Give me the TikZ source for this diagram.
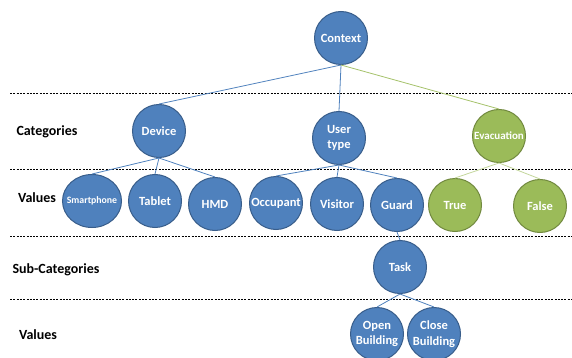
\documentclass[tikz,border=0pt]{standalone}
\usepackage{fontspec}
\setmainfont{Carlito}
\usetikzlibrary{shapes.geometric}
\definecolor{bluefill}{HTML}{4F81BD}
\definecolor{blueline}{HTML}{385D8A}
\definecolor{greenfill}{HTML}{9BBB59}
\definecolor{greenline}{HTML}{71893F}
\definecolor{palegreen}{HTML}{C3D69B}
\tikzset{
  bnode/.style={circle,draw=blueline,fill=bluefill,line width=1pt,minimum size=53pt,inner sep=0pt,
    text=white,align=center,font=\bfseries\fontsize{12.5}{15.5}\selectfont},
  gnode/.style={bnode,draw=greenline,fill=greenfill},
  lab/.style={font=\bfseries\fontsize{14}{16}\selectfont},
  sep/.style={dash pattern=on 2pt off 1.3pt,line width=0.8pt},
  bedge/.style={draw=bluefill,line width=0.8pt},
  gedge/.style={draw=greenfill!90!white,line width=0.8pt},
  pedge/.style={draw=palegreen,line width=0.8pt}
}
\begin{document}
\begin{tikzpicture}[x=1pt,y=-1pt]
\useasboundingbox (0,0) rectangle (572,358);
% level separators
\draw[sep] (10,93) -- (572,93);
\draw[sep] (10,169) -- (572,169);
\draw[sep] (10,236) -- (572,236);
\draw[sep] (10,299) -- (572,299);
% row labels
\node[lab] (cat) at (47,132) {Categories};
\node[lab] (val1) at (37,198) {Values};
\node[lab] (sub) at (56,270) {Sub-Categories};
\node[lab] (val2) at (38,335) {Values};
% root and categories
\node[bnode] (context) at (341,38) {Context};
\node[bnode] (device) at (159,131) {Device};
\node[bnode] (usertype) at (339,138) {User\\type};
\node[gnode,font=\bfseries\fontsize{11}{12}\selectfont] (evac) at (499,136) {Evacuation};
% values
\node[bnode,ellipse,inner xsep=-5pt,minimum width=59pt,minimum height=53pt,font=\bfseries\fontsize{9.8}{11}\selectfont] (smart) at (92,201) {Smartphone};
\node[bnode] (tablet) at (155,201) {Tablet};
\node[bnode] (hmd) at (215,204) {HMD};
\node[bnode] (occ) at (276,203) {Occupant};
\node[bnode] (visitor) at (337,204) {Visitor};
\node[bnode] (guard) at (397,205) {Guard};
\node[gnode] (true) at (455,205) {True};
\node[gnode] (false) at (540,206) {False};
% sub-category
\node[bnode] (task) at (400,267) {Task};
\node[bnode] (open) at (377,334) {Open\\Building};
\node[bnode] (close) at (434,334) {Close\\Building};
% edges
\draw[bedge] (context.south) -- (device.north);
\draw[bedge] (context.south) -- (usertype.north);
\draw[gedge] (context.south) -- (evac.north);
\foreach \c in {smart,tablet,hmd}
  \draw[bedge] (device.south) -- (\c.north);
\foreach \c in {occ,visitor,guard}
  \draw[bedge] (usertype.south) -- (\c.north);
\foreach \c in {true,false}
  \draw[pedge] (evac.south) -- (\c.north);
\draw[bedge] (guard.south) -- (task.north);
\draw[bedge] (task.south) -- (open.north);
\draw[bedge] (task.south) -- (close.north);
\end{tikzpicture}
\end{document}
